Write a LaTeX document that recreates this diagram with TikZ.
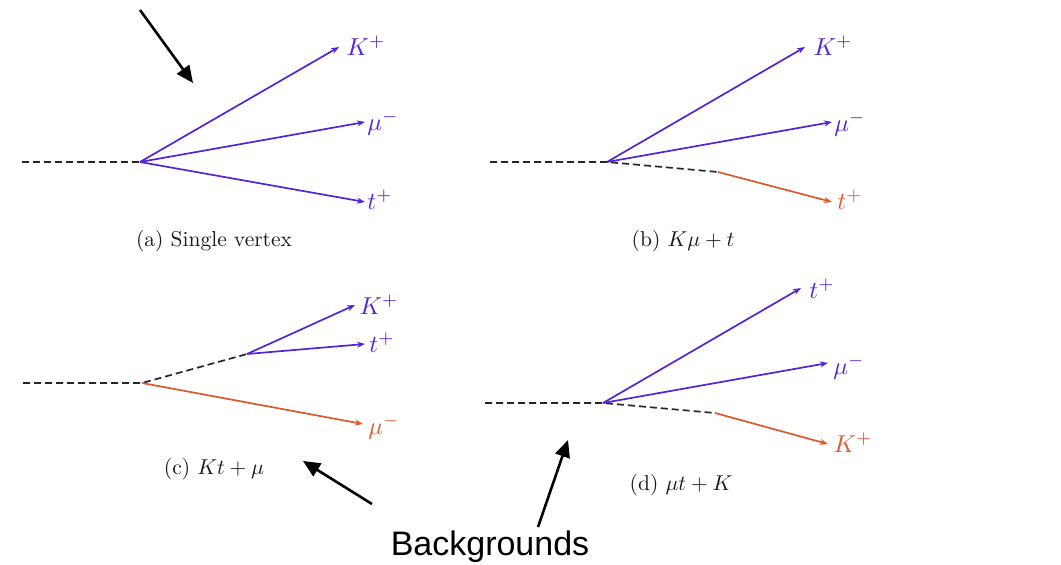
\documentclass[tikz,border=0pt]{standalone}
\usepackage{fontspec}
\newfontfamily\bgfont{Liberation Sans}
\usetikzlibrary{arrows.meta}
\definecolor{pblue}{RGB}{85,35,215}
\definecolor{porange}{RGB}{222,88,45}
\begin{document}
\begin{tikzpicture}[x=1pt,y=-1pt,
  mother/.style={black!85,line width=1.7pt,dash pattern=on 7pt off 4pt},
  partb/.style={pblue,line width=1.7pt,-{Stealth[length=8pt,width=6pt]}},
  parto/.style={porange,line width=1.7pt,-{Stealth[length=8pt,width=6pt]}},
  lbl/.style={anchor=center,inner sep=0pt,scale=2.45},
  captxt/.style={anchor=center,inner sep=0pt,scale=2.15,black!90},
  bigarrow/.style={black,line width=2.6pt,-{Triangle[length=17pt,width=15pt]}}]
\useasboundingbox (0,0) rectangle (1061,565);
% ---- (a)
\coordinate (a0) at (22,162);
\coordinate (av) at (140,162);
\coordinate (aK) at (339,47);
\coordinate (amu) at (365,122);
\coordinate (at) at (365,202);
\draw[mother] (a0) -- (av);
\draw[partb] (av) -- (aK);
\draw[partb] (av) -- (amu);
\draw[partb] (av) -- (at);
\node[lbl,pblue] (laK) at (366,46) {$K^+$};
\node[lbl,pblue] (lamu) at (383,123) {$\mu^-$};
\node[lbl,pblue] (lat) at (380,200) {$t^+$};
\node[captxt] (capa) at (214,241) {(a) Single vertex};
% ---- (b)
\coordinate (b0) at (490,162);
\coordinate (bv) at (607,162);
\coordinate (bv2) at (718,172);
\coordinate (bK) at (805,47);
\coordinate (bmu) at (832,122);
\coordinate (bt) at (832,202);
\draw[mother] (b0) -- (bv) -- (bv2);
\draw[partb] (bv) -- (bK);
\draw[partb] (bv) -- (bmu);
\draw[parto] (bv2) -- (bt);
\node[lbl,pblue] (lbK) at (833,46) {$K^+$};
\node[lbl,pblue] (lbmu) at (850,124) {$\mu^-$};
\node[lbl,porange] (lbt) at (850,200) {$t^+$};
\node[captxt] (capb) at (683,241) {(b) $K\mu+t$};
% ---- (c)
\coordinate (c0) at (23,383);
\coordinate (cv) at (142,383);
\coordinate (cv2) at (247,354);
\coordinate (cK) at (355,305);
\coordinate (ct) at (365,344);
\coordinate (cmu) at (363,424);
\draw[mother] (c0) -- (cv) -- (cv2);
\draw[partb] (cv2) -- (cK);
\draw[partb] (cv2) -- (ct);
\draw[parto] (cv) -- (cmu);
\node[lbl,pblue] (lcK) at (379,305) {$K^+$};
\node[lbl,pblue] (lct) at (382,343) {$t^+$};
\node[lbl,porange] (lcmu) at (384,427) {$\mu^-$};
\node[captxt] (capc) at (214,469) {(c) $Kt+\mu$};
% ---- (d)
\coordinate (d0) at (485,403);
\coordinate (dv) at (603,403);
\coordinate (dv2) at (715,413);
\coordinate (dt) at (801,288);
\coordinate (dmu) at (828,363);
\coordinate (dK) at (828,444);
\draw[mother] (d0) -- (dv) -- (dv2);
\draw[partb] (dv) -- (dt);
\draw[partb] (dv) -- (dmu);
\draw[parto] (dv2) -- (dK);
\node[lbl,pblue] (ldt) at (822,289) {$t^+$};
\node[lbl,pblue] (ldmu) at (849,367) {$\mu^-$};
\node[lbl,porange] (ldK) at (853,443) {$K^+$};
\node[captxt] (capd) at (681,485) {(d) $\mu t+K$};
% ---- annotations
\node[inner sep=0pt] (bg) at (490,547) {\bgfont\fontsize{34}{38}\selectfont Backgrounds};
\coordinate (s1) at (140,10);
\coordinate (e1) at (193,83);
\draw[bigarrow] (s1) -- (e1);
\coordinate (s2) at (372,504);
\coordinate (e2) at (303,461);
\draw[bigarrow] (s2) -- (e2);
\coordinate (s3) at (538,527);
\coordinate (e3) at (568,440);
\draw[bigarrow] (s3) -- (e3);
\end{tikzpicture}
\end{document}
